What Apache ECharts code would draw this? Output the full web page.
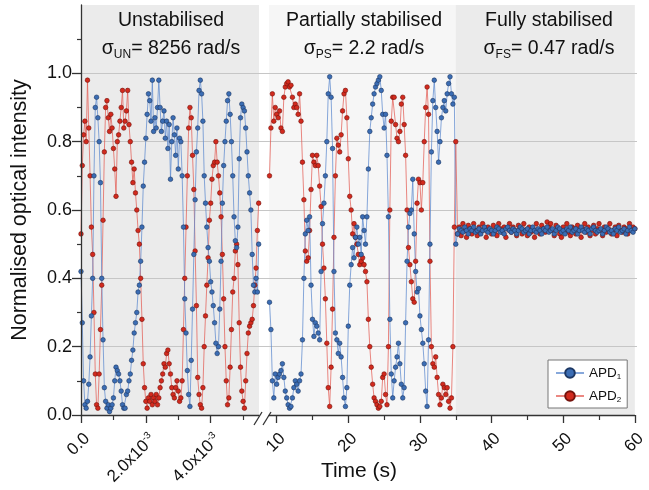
<!DOCTYPE html>
<html><head><meta charset="utf-8">
<script src="https://cdn.jsdelivr.net/npm/echarts@6/dist/echarts.min.js"></script>
<style>html,body{margin:0;padding:0;background:#fff}#c{width:649px;height:490px}</style>
</head><body><div id="c"></div>
<script>
// ---------- data ----------
// Unstabilised segment: sampled every 0.04 ms
const unstabStepMs = 0.04;
const unstabAPD1 = [
0.42,0.27,0.1,0.03,0.02,0.04,0.09,0.17,0.29,0.4,
0.7,0.9,0.93,0.87,0.8,0.68,0.4,0.22,0.08,0.04,
0.02,0.03,0.01,0.02,0.03,0.05,0.1,0.14,0.13,0.12,
0.1,0.07,0.03,0.02,0.02,0.06,0.07,0.1,0.12,0.16,
0.19,0.24,0.27,0.3,0.36,0.38,0.45,0.55,0.67,0.74,
0.81,0.88,0.94,0.92,0.86,0.98,0.83,0.87,0.84,0.9,
0.98,0.9,0.83,0.86,0.89,0.81,0.86,0.78,0.85,0.69,
0.8,0.87,0.82,0.76,0.84,0.72,0.81,
0.8,0.7,0.55,0.34,0.24,0.13,0.06,0.025,0.16,0.31,
0.47,0.63,0.77,0.84,0.95,0.98,0.94,0.86,0.7,0.62,
0.55,0.49,0.45,0.39,0.36,0.32,0.27,0.21,0.18,0.2,
0.31,0.45,0.62,0.73,0.8,0.86,0.92,0.94,0.88,0.8,
0.7,0.58,0.51,0.49,0.55,0.75,0.87,0.91,0.9,0.89,
0.84,0.77,0.7,0.65,0.6,0.47,0.38,0.36,0.4,0.36,0.5];
const unstabAPD2 = [
0.53,0.73,0.82,0.86,0.8,0.98,0.84,0.7,0.55,0.47,
0.3,0.12,0.03,0.02,0.12,0.25,0.38,0.57,0.77,0.9,
0.92,0.87,0.83,0.88,0.84,0.78,0.72,0.64,0.8,0.82,
0.86,0.9,0.95,0.84,0.86,0.89,0.95,0.85,0.8,0.74,
0.68,0.72,0.65,0.6,0.54,0.5,0.4,0.28,0.15,0.08,
0.04,0.02,0.05,0.04,0.06,0.03,0.05,0.04,0.06,0.03,
0.05,0.08,0.1,0.12,0.15,0.14,0.18,0.19,0.15,0.12,
0.08,0.06,0.05,0.08,0.1,0.07,0.04,
0.05,0.1,0.25,0.4,0.55,0.7,0.84,0.9,0.87,0.76,
0.66,0.48,0.32,0.11,0.06,0.03,0.02,0.08,0.2,0.29,
0.38,0.46,0.57,0.62,0.69,0.73,0.74,0.8,0.74,0.7,
0.65,0.58,0.47,0.34,0.2,0.1,0.03,0.05,0.14,0.25,
0.36,0.4,0.48,0.5,0.44,0.27,0.14,0.07,0.04,0.02,
0.1,0.18,0.24,0.26,0.27,0.28,0.32,0.38,0.43,0.54,0.62];

// Partially stabilised segment: from 9.0 s every 0.2 s
const partialStart = 9.0, partialStep = 0.2;
const partialAPD1 = [
0.33,0.25,0.1,0.05,0.12,0.09,0.11,0.12,0.13,0.15,
0.11,0.07,0.05,0.03,0.02,0.025,0.05,0.08,0.1,0.09,
0.07,0.1,0.12,0.22,0.4,0.53,0.57,0.54,0.58,0.38,
0.28,0.23,0.27,0.26,0.24,0.22,0.42,0.56,0.62,0.7,
0.8,0.94,0.99,0.93,0.78,0.42,0.24,0.22,0.18,0.21,
0.17,0.11,0.05,0.025,0.08,0.26,0.38,0.44,0.49,0.46,
0.52,0.55,0.5,0.52,0.47,0.58,0.54,0.5,0.58,0.72,
0.83,0.87,0.91,0.94,0.96,0.97,0.98,0.99,0.95,0.88,
0.84,0.88,0.76,0.58,0.28,0.12,0.05,0.1,0.14,0.17,
0.21,0.15,0.09,0.05,0.08,0.27,0.45,0.55,0.59,0.6,
0.69,0.53,0.42,0.36,0.37,0.29,0.25,0.21,0.15,0.07,
0.025,0.22,0.5,0.77,0.92,0.98,0.9,0.83,0.74,0.8,
0.87,0.9,0.92,0.89,0.94,0.97,0.99,0.94,0.91,0.93,
0.5];
const partialAPD2 = [
0.7,0.84,0.94,0.86,0.9,0.88,0.87,0.89,0.84,0.83,
0.93,0.96,0.97,0.975,0.96,0.965,0.93,0.9,0.91,0.9,
0.88,0.94,0.86,0.74,0.63,0.48,0.45,0.46,0.54,0.66,
0.76,0.74,0.73,0.76,0.73,0.67,0.61,0.5,0.43,0.34,
0.21,0.08,0.025,0.14,0.31,0.52,0.7,0.81,0.79,0.77,
0.82,0.89,0.94,0.95,0.87,0.75,0.64,0.6,0.53,0.56,
0.52,0.5,0.47,0.44,0.45,0.46,0.44,0.42,0.39,0.28,
0.2,0.14,0.09,0.05,0.04,0.03,0.02,0.025,0.04,0.11,
0.12,0.06,0.03,0.2,0.6,0.86,0.93,0.93,0.85,0.81,
0.8,0.83,0.91,0.93,0.85,0.76,0.6,0.49,0.44,0.39,
0.34,0.33,0.45,0.62,0.69,0.68,0.6,0.68,0.8,0.9,
0.96,0.88,0.45,0.2,0.15,0.14,0.17,0.11,0.06,0.03,
0.05,0.09,0.08,0.06,0.08,0.04,0.02,0.05,0.2,0.55,
0.8];

// Fully stabilised segment: from 35.25 s every 0.25 s
const fullStart = 35.25, fullStep = 0.25;
const fullAPD1 = [
0.53,0.545,0.54,0.535,0.55,0.54,0.53,0.545,0.54,0.55,
0.535,0.54,0.545,0.53,0.54,0.55,0.54,0.535,0.545,0.54,
0.53,0.54,0.55,0.545,0.535,0.54,0.53,0.545,0.55,0.54,
0.535,0.545,0.54,0.53,0.54,0.55,0.545,0.535,0.54,0.545,
0.53,0.54,0.55,0.54,0.535,0.545,0.54,0.53,0.545,0.54,
0.55,0.535,0.54,0.545,0.53,0.54,0.55,0.545,0.535,0.54,
0.53,0.545,0.54,0.55,0.535,0.54,0.545,0.53,0.54,0.55,
0.54,0.535,0.545,0.54,0.53,0.545,0.55,0.54,0.535,0.54,
0.545,0.53,0.54,0.55,0.545,0.535,0.54,0.53,0.545,0.54,
0.55,0.535,0.54,0.545,0.53,0.54,0.55,0.54,0.535,0.545];
const fullAPD2 = [
0.53,0.55,0.525,0.56,0.54,0.52,0.555,0.545,0.53,0.56,
0.54,0.525,0.55,0.535,0.56,0.545,0.52,0.55,0.54,0.53,
0.555,0.54,0.525,0.56,0.545,0.535,0.55,0.52,0.545,0.56,
0.535,0.55,0.54,0.525,0.555,0.545,0.53,0.56,0.54,0.525,
0.55,0.535,0.545,0.52,0.56,0.54,0.53,0.555,0.545,0.535,
0.565,0.55,0.56,0.54,0.525,0.555,0.545,0.53,0.52,0.55,
0.54,0.56,0.535,0.525,0.55,0.545,0.53,0.555,0.54,0.52,
0.545,0.56,0.535,0.55,0.525,0.54,0.555,0.53,0.545,0.56,
0.54,0.525,0.55,0.535,0.545,0.56,0.53,0.54,0.55,0.525,
0.555,0.54,0.535,0.55,0.545,0.53,0.56,0.54,0.55,0.545];

// ticks / labels
const leftTicks = [0, 0.002, 0.004];
const leftMinorTicks = [0.001, 0.003, 0.005];
const rightTicks = [10, 20, 30, 40, 50, 60];
const rightMinorTicks = [15, 25, 35, 45, 55];
const yTicks = [0, 0.2, 0.4, 0.6, 0.8, 1.0];
const yMinorTicks = [0.1, 0.3, 0.5, 0.7, 0.9, 1.1];
const regionTitles = ['Unstabilised', 'Partially stabilised', 'Fully stabilised'];
const sigmaSubs = ['UN', 'PS', 'FS'];
const sigmaValues = ['8256 rad/s', '2.2 rad/s', '0.47 rad/s'];
const legendNames = ['APD1', 'APD2'];
const leftMax = 0.00549, rightMin = 8.93, rightMax = 60, stableFrom = 35;

// ---------- build ----------
const FONT = 'Liberation Sans, Arial, sans-serif';
const toLeft = arr => arr.map((v, i) => [i * unstabStepMs * 1e-3, v]);
const toRight = (pa, fu) => pa.map((v, i) => [partialStart + i * partialStep, v])
  .concat(fu.map((v, i) => [fullStart + i * fullStep, v]));

const blueStyle = {
  symbol: 'circle', symbolSize: 4.6,
  itemStyle: { color: '#3b6db4', borderColor: '#1c3763', borderWidth: 0.6 },
  lineStyle: { color: '#5f8bcf', width: 1, opacity: 0.75 }
};
const redStyle = {
  symbol: 'circle', symbolSize: 4.6,
  itemStyle: { color: '#d22a1e', borderColor: '#74120c', borderWidth: 0.6 },
  lineStyle: { color: '#e2564d', width: 1, opacity: 0.7 }
};
const mk = (name, xi, yi, data, st) => Object.assign({
  type: 'line', name, xAxisIndex: xi, yAxisIndex: yi, data, z: 2,
  emphasis: { disabled: true }, silent: true, animation: false
}, st);

const axisCol = '#333';
const minorX = (grid, min, max, vals) => ({
  gridIndex: grid, type: 'value', min, max, z: 3, position: 'bottom',
  axisLine: { show: false }, splitLine: { show: false }, axisLabel: { show: false },
  axisTick: { show: true, customValues: vals, length: 5, lineStyle: { color: axisCol, width: 1.2 } }
});
const labelRich = {
  a: { fontSize: 17, fontFamily: FONT, color: '#111', lineHeight: 20 },
  sup: { fontSize: 10, fontFamily: FONT, color: '#111', verticalAlign: 'top', lineHeight: 10 }
};

const option = {
  animation: false,
  backgroundColor: '#fff',
  grid: [
    { left: 81, width: 178, top: 5, bottom: 75 },
    { left: 269, width: 368, top: 5, bottom: 75 },
    { left: 81, width: 556, top: 5, bottom: 75 }
  ],
  xAxis: [
    { gridIndex: 0, type: 'value', min: 0, max: leftMax, z: 3, position: 'bottom',
      axisLine: { show: true, lineStyle: { color: axisCol, width: 1.3 } },
      splitLine: { show: false },
      axisTick: { show: true, customValues: leftTicks, length: 8, lineStyle: { color: axisCol, width: 1.3 } },
      axisLabel: { customValues: leftTicks, rotate: 45, margin: 15, verticalAlign: 'top', color: '#111', fontSize: 17, fontFamily: FONT,
        formatter: v => v === 0 ? '0.0' : '{a|' + (v * 1000).toFixed(1) + 'x10}{sup|-3}', rich: labelRich } },
    minorX(0, 0, leftMax, leftMinorTicks),
    { gridIndex: 1, type: 'value', min: rightMin, max: rightMax, z: 3, position: 'bottom',
      axisLine: { show: true, lineStyle: { color: axisCol, width: 1.3 } },
      splitLine: { show: false },
      axisTick: { show: true, customValues: rightTicks, length: 8, lineStyle: { color: axisCol, width: 1.3 } },
      axisLabel: { customValues: rightTicks, rotate: 45, margin: 15, verticalAlign: 'top', color: '#111', fontSize: 17, fontFamily: FONT,
        formatter: v => String(v) } },
    minorX(1, rightMin, rightMax, rightMinorTicks),
    { gridIndex: 2, type: 'value', min: 0, max: 1, show: false }
  ],
  yAxis: [
    { gridIndex: 0, type: 'value', min: 0, max: 1.2, show: false },
    { gridIndex: 1, type: 'value', min: 0, max: 1.2, show: false },
    { gridIndex: 2, type: 'value', min: 0, max: 1.2, z: 3,
      name: 'Normalised optical intensity', nameLocation: 'middle', nameGap: 50,
      nameTextStyle: { fontSize: 21.5, fontFamily: FONT, color: '#111' },
      axisLine: { show: true, lineStyle: { color: axisCol, width: 1.3 } },
      splitLine: { show: false },
      axisTick: { show: true, customValues: yTicks, length: 9, lineStyle: { color: axisCol, width: 1.3 } },
      axisLabel: { customValues: yTicks, margin: 9, color: '#111', fontSize: 18, fontFamily: FONT,
        formatter: v => v.toFixed(1) } },
    { gridIndex: 2, type: 'value', min: 0, max: 1.2, position: 'left', z: 3,
      axisLine: { show: false }, splitLine: { show: false }, axisLabel: { show: false },
      axisTick: { show: true, customValues: yMinorTicks, length: 4, lineStyle: { color: axisCol, width: 1.2 } } }
  ],
  legend: {
    data: legendNames, orient: 'vertical', left: 548, top: 360,
    backgroundColor: '#fff', borderColor: '#777', borderWidth: 1, borderRadius: 0,
    padding: [5, 6, 4, 7], itemGap: 7, itemWidth: 28, itemHeight: 12,
    formatter: n => 'APD{s|' + n.slice(3) + '}',
    textStyle: { fontSize: 13.5, fontFamily: FONT, color: '#111', lineHeight: 16,
      rich: { s: { fontSize: 8, fontFamily: FONT, color: '#111', verticalAlign: 'bottom', lineHeight: 8 } } }
  },
  series: [
    { type: 'line', name: 'bandL', xAxisIndex: 0, yAxisIndex: 0, data: [], silent: true,
      markArea: { z: 0, silent: true, itemStyle: { color: '#ebebeb' },
        data: [[{ xAxis: 0 }, { xAxis: leftMax }]] } },
    { type: 'line', name: 'bandR', xAxisIndex: 2, yAxisIndex: 1, data: [], silent: true,
      markArea: { z: 0, silent: true,
        data: [[{ xAxis: rightMin, itemStyle: { color: '#f6f6f6' } }, { xAxis: stableFrom }],
               [{ xAxis: stableFrom, itemStyle: { color: '#ebebeb' } }, { xAxis: rightMax }]] } },
    { type: 'line', name: 'grid', xAxisIndex: 4, yAxisIndex: 2, data: [], silent: true,
      markLine: { z: 1, silent: true, symbol: ['none', 'none'], label: { show: false },
        lineStyle: { color: '#c6c6c6', width: 1, type: 'solid' },
        data: yTicks.slice(1).map(v => ({ yAxis: v })) } },
    mk('APD2', 0, 0, toLeft(unstabAPD2), redStyle),
    mk('APD1', 0, 0, toLeft(unstabAPD1), blueStyle),
    mk('APD2', 2, 1, toRight(partialAPD2, fullAPD2), redStyle),
    mk('APD1', 2, 1, toRight(partialAPD1, fullAPD1), blueStyle)
  ],
  graphic: [
    { type: 'line', z: 10, shape: { x1: 254, y1: 425, x2: 262, y2: 412 }, style: { stroke: axisCol, lineWidth: 1.3 } },
    { type: 'line', z: 10, shape: { x1: 263, y1: 425, x2: 271, y2: 412 }, style: { stroke: axisCol, lineWidth: 1.3 } },
    { type: 'text', z: 10, x: 359, y: 471, style: { text: 'Time (s)', fontSize: 21, fontFamily: FONT, fill: '#111', align: 'center', verticalAlign: 'middle' } }
  ]
};

const headerX = [171, 364, 549];
regionTitles.forEach((t, k) => {
  option.graphic.push({ type: 'text', z: 10, x: headerX[k], y: 21,
    style: { text: t, fontSize: 19.5, fontFamily: FONT, fill: '#111', align: 'center', verticalAlign: 'middle' } });
  option.graphic.push({ type: 'text', z: 10, x: headerX[k], y: 49,
    style: { text: '{m|σ}{s|' + sigmaSubs[k] + '}{m|= ' + sigmaValues[k] + '}', align: 'center', verticalAlign: 'middle',
      rich: { m: { fontSize: 19.5, fontFamily: FONT, fill: '#111', color: '#111', lineHeight: 24 },
              s: { fontSize: 12, fontFamily: FONT, fill: '#111', color: '#111', lineHeight: 12, verticalAlign: 'bottom' } } } });
});

const chart = echarts.init(document.getElementById('c'), null, { renderer: 'canvas' });
chart.setOption(option);
</script></body></html>
